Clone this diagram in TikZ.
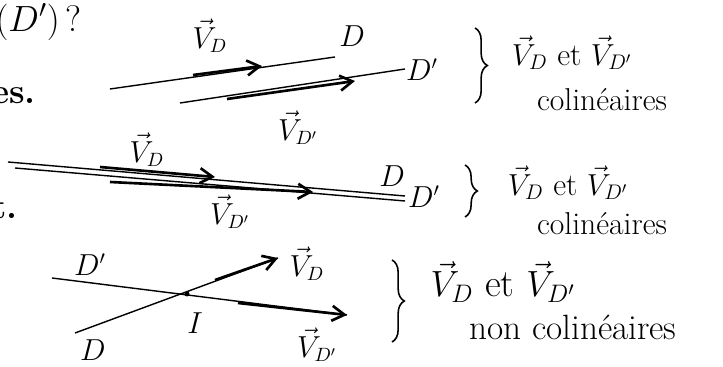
\documentclass[tikz,border=0pt]{standalone}
\usetikzlibrary{arrows.meta,decorations.pathreplacing}
\begin{document}
\begin{tikzpicture}[x=0.02cm,y=-0.02cm,every node/.style={inner sep=1pt,font=\fontsize{16}{19}\selectfont},
droite/.style={line width=0.8pt},
vecteur/.style={line width=1.5pt,-{Straight Barb[length=2.5mm,width=3mm]}},
accolade/.style={decorate,decoration={brace,amplitude=7pt},line width=0.9pt},
ecrit/.style={font=\fontsize{18}{22}\selectfont}]
\useasboundingbox (0,0) rectangle (723,367);
% bord gauche
\node[anchor=east,font=\fontsize{21}{25}\selectfont] (q) at (84,22) {$(D')$\,?};
\node[anchor=base east,font=\fontsize{20}{24}\selectfont\bfseries] (es) at (38,104) {es.};
\node[anchor=base east,font=\fontsize{20}{24}\selectfont\bfseries] (tt) at (20,219) {t.};
% 1
\coordinate (a1) at (110,89); \coordinate (a2) at (335,57); \coordinate (b1) at (180,103); \coordinate (b2) at (405,69);
\coordinate (u1) at (193,75); \coordinate (u2) at (262,66); \coordinate (v1) at (227,99); \coordinate (v2) at (355,81);
\node (D1) at (352,36) {$D$};
\node (E1) at (422,70) {$D'$};
\node (VD1) at (210,36) {$\vec{V}_{D}$};
\node (VE1) at (298,128) {$\vec{V}_{D'}$};
\node[ecrit] (T1) at (572,53) {$\vec{V}_{D}$ et $\vec{V}_{D'}$};
\node[ecrit] (C1) at (602,100) {colinéaires};
\draw[droite] (a1)--(a2);\draw[droite] (b1)--(b2);\draw[vecteur] (u1)--(u2);\draw[vecteur] (v1)--(v2);
\draw[accolade] (475,28)--(475,103);
% 2
\coordinate (a3) at (8,162); \coordinate (a4) at (405,196); \coordinate (b3) at (15,168); \coordinate (b4) at (405,201);
\coordinate (u3) at (100,167); \coordinate (u4) at (215,177); \coordinate (v3) at (110,182); \coordinate (v4) at (313,192);
\node (D2) at (392,176) {$D$};
\node (E2) at (424,197) {$D'$};
\node (VD2) at (147,150) {$\vec{V}_{D}$};
\node (VE2) at (230,212) {$\vec{V}_{D'}$};
\node[ecrit] (T2) at (568,183) {$\vec{V}_{D}$ et $\vec{V}_{D'}$};
\node[ecrit] (C2) at (602,224) {colinéaires};
\draw[droite] (a3)--(a4);\draw[droite] (b3)--(b4);\draw[vecteur] (u3)--(u4);\draw[vecteur] (v3)--(v4);
\draw[accolade] (465,165)--(465,217);
% 3
\coordinate (a5) at (52,278); \coordinate (a6) at (347,315); \coordinate (b5) at (75,333); \coordinate (b6) at (278,258);
\coordinate (u5) at (215,280); \coordinate (v5) at (238,303);
\node (E3) at (90,265) {$D'$};
\node (D3) at (93,350) {$D$};
\node (I) at (195,323) {$I$};
\node (VD3) at (307,264) {$\vec{V}_{D}$};
\node (VE3) at (317,345) {$\vec{V}_{D'}$};
\node[font=\fontsize{22}{26}\selectfont] (T3) at (503,282) {$\vec{V}_{D}$ et $\vec{V}_{D'}$};
\node[font=\fontsize{20}{24}\selectfont] (C3) at (573,327) {non colinéaires};
\draw[droite] (a5)--(a6);\draw[droite] (b5)--(b6);\draw[vecteur] (u5)--(b6);\draw[vecteur] (v5)--(a6);
\fill (187,294) circle (2.5);
\draw[accolade] (392,260)--(392,342);
\end{tikzpicture}
\end{document}
